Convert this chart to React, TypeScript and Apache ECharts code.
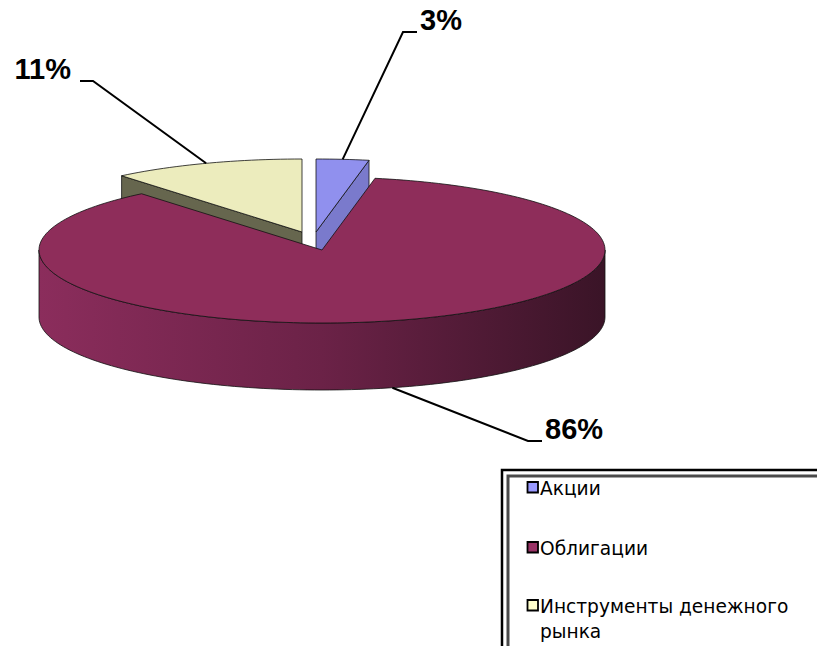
import React, { useEffect, useRef } from "react";
import * as echarts from "echarts";

// ---- data ----
const categories = ["Акции", "Облигации", "Инструменты денежного рынка"];
const shares = [3, 86, 11];

// ---- styles / layout ----
const topColors = ["#9090ee", "#8e2d5a", "#ececbd"];
const cutColors = ["#7a7acc", "#5a1a3a", "#66664e"];
const legendColors = ["#9999ff", "#993366", "#ffffcc"];
const wallStops = ["#8b2d5c", "#6b2247", "#3a1427"];
const explode = [
  [-6, -18],
  [0, 0],
  [-20, -18],
];
// label elbow and end of the leader line, per slice
const labelElbow = [
  [403, 32],
  [528, 441],
  [93, 81],
];
const labelEnd = [
  [417, 32],
  [542, 441],
  [80, 81],
];
const CX = 322;
const CY = 250;
const RX = 283;
const RY = 73;
const DEPTH = 67;
const FONT = '"Liberation Sans", Arial, sans-serif';
const LEGEND_FONT = '"DejaVu Sans", Verdana, sans-serif';

const total = shares.reduce((a, b) => a + b, 0);
const starts: number[] = [];
{
  let acc = 0;
  shares.forEach((v) => {
    starts.push((acc / total) * 360);
    acc += v;
  });
}

function wrap(text: string, maxChars: number): string {
  const words = text.split(" ");
  const lines: string[] = [];
  let cur = "";
  words.forEach((w) => {
    const cand = cur ? cur + " " + w : w;
    if (cand.length > maxChars && cur) {
      lines.push(cur);
      cur = w;
    } else cur = cand;
  });
  if (cur) lines.push(cur);
  return lines.join("\n");
}

function renderItem(params: any, api: any) {
  const i = params.dataIndex;
  const value = api.value(0);
  const a0 = starts[i];
  const a1 = a0 + (value / total) * 360;
  const cx = CX + explode[i][0];
  const cy = CY + explode[i][1];
  const rad = (d: number) => (d * Math.PI) / 180;
  const pt = (d: number, dz = 0) => [
    cx + RX * Math.sin(rad(d)),
    cy - RY * Math.cos(rad(d)) + dz,
  ];
  const arc = (a: number, b: number, dz: number) => {
    const n = Math.max(2, Math.ceil(Math.abs(b - a) / 1.5));
    const pts: number[][] = [];
    for (let k = 0; k <= n; k++) pts.push(pt(a + ((b - a) * k) / n, dz));
    return pts;
  };
  const zb = i === 1 ? 20 : 0;
  const children: any[] = [];
  const stroke = { stroke: "#111", lineWidth: 0.8 };

  // radial cut faces
  const cutFace = (d: number) => {
    const p = pt(d);
    const q = pt(d, DEPTH);
    children.push({
      type: "polygon",
      z2: zb + 1,
      shape: { points: [[cx, cy], p, q, [cx, cy + DEPTH]] },
      style: { fill: cutColors[i], ...stroke },
    });
  };
  if (Math.sin(rad(a1)) > 1e-6) cutFace(a1);
  if (Math.sin(rad(a0)) < -1e-6) cutFace(a0);

  // curved wall (front part)
  const wa = Math.max(a0, 90);
  const wb = Math.min(a1, 270);
  if (wb > wa) {
    const pts = arc(wa, wb, 0).concat(arc(wa, wb, DEPTH).reverse());
    children.push({
      type: "polygon",
      z2: zb + 2,
      shape: { points: pts },
      style: {
        fill: new echarts.graphic.LinearGradient(1, 0, 0, 0, [
          { offset: 0, color: wallStops[2] },
          { offset: 0.5, color: wallStops[1] },
          { offset: 1, color: wallStops[0] },
        ]),
        ...stroke,
      },
    });
  }

  // top face
  children.push({
    type: "polygon",
    z2: zb + 3,
    shape: { points: [[cx, cy]].concat(arc(a0, a1, 0)) },
    style: { fill: topColors[i], ...stroke },
  });

  // leader line and label
  const mid = (a0 + a1) / 2;
  const start = pt(mid, Math.cos(rad(mid)) < 0 ? DEPTH : 0);
  children.push({
    type: "polyline",
    z2: 50,
    shape: { points: [start, labelElbow[i], labelEnd[i]] },
    style: { stroke: "#000", lineWidth: 2, fill: null },
  });
  const right = labelEnd[i][0] < labelElbow[i][0];
  children.push({
    type: "text",
    z2: 51,
    x: labelEnd[i][0] + (right ? -9 : 3),
    y: labelEnd[i][1] - 12,
    style: {
      text: `${value}%`,
      fill: "#000",
      font: `bold 29px ${FONT}`,
      align: right ? "right" : "left",
      verticalAlign: "middle",
    },
  });

  return { type: "group", children };
}

export default function App() {
  const ref = useRef<HTMLDivElement>(null);
  useEffect(() => {
    if (!ref.current) return;
    const chart = echarts.init(ref.current, undefined, { renderer: "svg" });

    const legendTop = [488.5, 548.5, 606.5];
    const legendEls: any[] = [];
    categories.forEach((c, i) => {
      legendEls.push({
        type: "rect",
        shape: { x: 527.5, y: legendTop[i] - 6.5, width: 10.5, height: 10.5 },
        style: { fill: legendColors[i], stroke: "#000", lineWidth: 1.8 },
      });
      legendEls.push({
        type: "text",
        x: 540,
        y: legendTop[i] - 12.5,
        style: {
          text: wrap(c, 22),
          font: `18.6px ${LEGEND_FONT}`,
          fill: "#000",
          lineHeight: 25,
          align: "left",
          verticalAlign: "top",
        },
      });
    });

    chart.setOption({
      animation: false,
      backgroundColor: "#ffffff",
      series: [
        {
          type: "custom",
          coordinateSystem: "none",
          renderItem,
          data: shares.map((v, i) => ({ name: categories[i], value: v })),
        },
      ],
      graphic: [
        {
          type: "rect",
          shape: { x: 502, y: 470, width: 340, height: 200 },
          style: { fill: null, stroke: "#000", lineWidth: 2.5 },
        },
        {
          type: "polyline",
          shape: {
            points: [
              [508, 660],
              [508, 476],
              [830, 476],
            ],
          },
          style: { fill: null, stroke: "#4a4a4a", lineWidth: 3 },
        },
        ...legendEls,
      ],
    });
    return () => chart.dispose();
  }, []);
  return (
    <div
      ref={ref}
      style={{ position: "fixed", left: 0, top: 0, width: 817, height: 646 }}
    />
  );
}
